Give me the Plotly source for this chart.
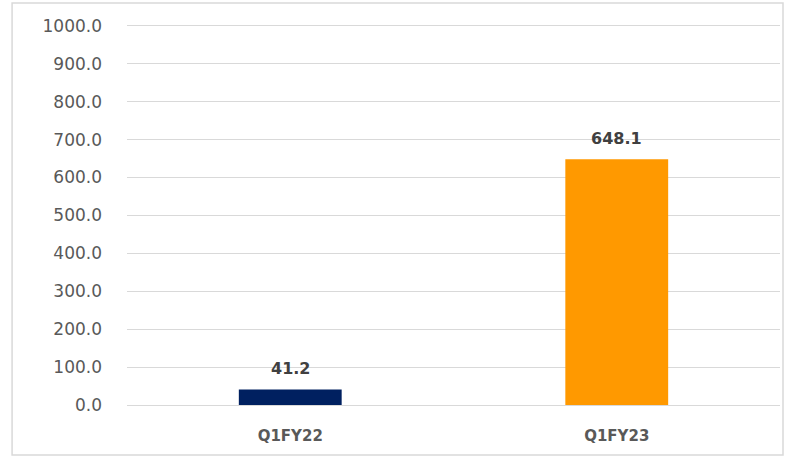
import plotly.graph_objects as go

categories = ["Q1FY22", "Q1FY23"]
values = [41.2, 648.1]
bar_colors = ["#002060", "#FF9900"]
tick_values = [0, 100, 200, 300, 400, 500, 600, 700, 800, 900, 1000]
tick_labels = [f"{v:.1f}" for v in tick_values]

fig = go.Figure(
    go.Bar(
        x=categories,
        y=values,
        marker=dict(color=bar_colors, line=dict(width=0)),
        width=0.315,
        cliponaxis=False,
    )
)

# value labels sitting above each bar
for cat, val in zip(categories, values):
    fig.add_annotation(
        x=cat,
        y=val,
        text=f"{val:.1f}",
        showarrow=False,
        yanchor="bottom",
        yshift=9,
        font=dict(family="DejaVu Sans", size=16, color="#404040", weight="bold"),
    )

fig.update_layout(
    width=786,
    height=457,
    margin=dict(l=127, r=6, t=22, b=52),
    paper_bgcolor="white",
    plot_bgcolor="white",
    showlegend=False,
    font=dict(family="DejaVu Sans", color="#595959"),
    xaxis=dict(
        showgrid=False,
        showline=False,
        ticks="",
        ticklabelstandoff=20,
        tickfont=dict(size=15, color="#595959", weight="bold"),
    ),
    yaxis=dict(
        range=[0, 1010],
        tickvals=tick_values,
        ticktext=tick_labels,
        showgrid=True,
        gridcolor="#d9d9d9",
        gridwidth=1,
        zeroline=True,
        zerolinecolor="#d9d9d9",
        zerolinewidth=1,
        showline=False,
        ticks="",
        ticklabelstandoff=24,
        tickfont=dict(size=17, color="#595959"),
    ),
    shapes=[
        dict(
            type="rect",
            xref="paper",
            yref="paper",
            x0=-0.176,
            x1=1.0046,
            y0=-0.1305,
            y1=1.0496,
            line=dict(color="#d9d9d9", width=1.5),
            fillcolor="rgba(0,0,0,0)",
            layer="below",
        )
    ],
)

fig.write_html("out.html")
